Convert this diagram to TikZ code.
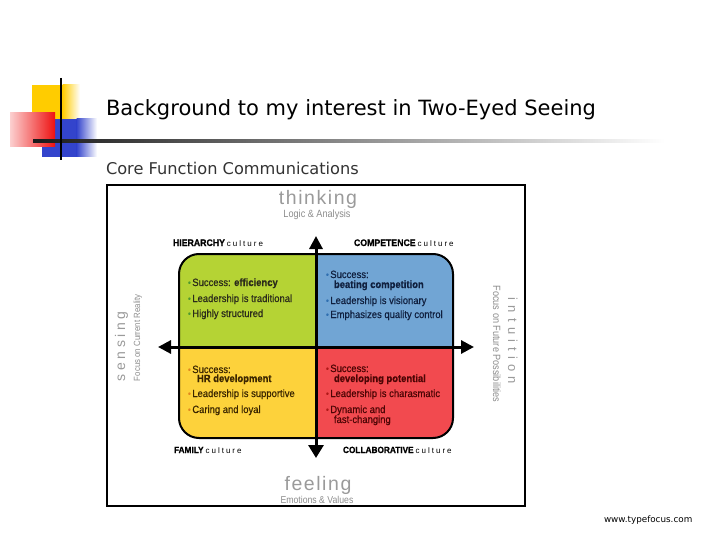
\documentclass[tikz,border=0pt]{standalone}
\usepackage{fontspec}
\setmainfont{Liberation Sans}
\newfontfamily\dejavu{DejaVu Sans}
\newfontfamily\cnd[FakeStretch=0.9,FakeBold=0.6]{Liberation Sans}
\newfontfamily\cndb[FakeStretch=0.92,FakeBold=0.8]{Liberation Sans}
\newfontfamily\lbl[FakeStretch=0.87]{Liberation Sans}
\newfontfamily\spA[LetterSpace=8]{Liberation Sans}
\newfontfamily\spS[LetterSpace=25]{Liberation Sans}
\newfontfamily\spI[LetterSpace=40]{Liberation Sans}
\newfontfamily\spC[LetterSpace=25]{Liberation Sans}
\usetikzlibrary{arrows.meta}
\definecolor{qgreen}{HTML}{B5D334}
\definecolor{qblue}{HTML}{71A5D4}
\definecolor{qyellow}{HTML}{FDD23B}
\definecolor{qred}{HTML}{F24A4F}
\definecolor{grayT}{HTML}{9A9A9A}
\definecolor{grayL}{HTML}{8C8C8C}
\definecolor{coreC}{HTML}{333333}
\definecolor{logoY}{HTML}{FFCC00}
\definecolor{logoB}{HTML}{3344CC}
\definecolor{logoR}{HTML}{EE1111}
\definecolor{tG}{HTML}{2B2B1B}
\definecolor{bG}{HTML}{4F9A2F}
\definecolor{tB}{HTML}{10203F}
\definecolor{bB}{HTML}{2F6FB0}
\definecolor{tY}{HTML}{3B2600}
\definecolor{bY}{HTML}{E2881E}
\definecolor{tR}{HTML}{4D0505}
\definecolor{bR}{HTML}{B01818}
\newcommand\bul[1]{\textcolor{#1}{\fontsize{9}{9}\selectfont\raisebox{0.3pt}{•}}\hspace{1.5pt}}
\newcommand\cultlbl[2]{{\cndb\bfseries\fontsize{#2}{10}\selectfont #1}\hspace{2pt}{\spC\fontsize{8}{9}\selectfont culture}}
\begin{document}
\begin{tikzpicture}[x=1pt,y=-1pt,
  every node/.style={inner sep=0pt, outer sep=0pt},
  qt/.style={anchor=base west, font=\cnd\fontsize{10.5}{12}\selectfont},
  big/.style={anchor=base, font=\spA\fontsize{19.5}{20}\selectfont, text=grayT},
  sub/.style={anchor=base, font=\lbl\fontsize{10.5}{11}\selectfont, text=grayL},
  culture/.style={anchor=base west},
  axis/.style={line width=3pt}]
\useasboundingbox (0,0) rectangle (720,540);
% logo
\fill[logoY] (32,85) rectangle (63,120);
\shade[left color=logoY, right color=white] (62.5,85) rectangle (80,120);
\fill[logoB] (42,119) rectangle (77,157);
\shade[left color=logoB, right color=white] (76.5,119) rectangle (97,157);
\shade[left color=logoR!20!white, right color=logoR] (10,113) rectangle (55,147);
\shade[left color=black!90, right color=white] (33,140) rectangle (665,142.5);
\draw[line width=2.5pt] (61,78) -- (61,160);
% titles
\node[anchor=base west, font=\dejavu\fontsize{21}{25}\selectfont] (title) at (106,116) {Background to my interest in Two-Eyed Seeing};
\node[anchor=base west, font=\dejavu\fontsize{16.2}{19}\selectfont, text=coreC] (core) at (106,175) {Core Function Communications};
% frame
\draw[line width=2pt] (107,185) rectangle (525,506);
% quadrants
\begin{scope}\clip (179,254) rectangle (316,347);
\fill[qgreen, rounded corners=20pt] (179,254) rectangle (453,438);\end{scope}
\begin{scope}\clip (316,254) rectangle (453,347);
\fill[qblue, rounded corners=20pt] (179,254) rectangle (453,438);\end{scope}
\begin{scope}\clip (179,347) rectangle (316,438);
\fill[qyellow, rounded corners=20pt] (179,254) rectangle (453,438);\end{scope}
\begin{scope}\clip (316,347) rectangle (453,438);
\fill[qred, rounded corners=20pt] (179,254) rectangle (453,438);\end{scope}
\draw[line width=2pt, rounded corners=20pt] (179,254) rectangle (453,438);
% axes
\coordinate (vt) at (316,236);
\coordinate (vb) at (316,458);
\coordinate (hl) at (158,347);
\coordinate (hr) at (474,347);
\draw[axis, {Triangle[width=13pt,length=13pt]}-{Triangle[width=15pt,length=13pt]}] (vt) -- (vb);
\draw[axis, {Triangle[width=13pt,length=13pt]}-{Triangle[width=13pt,length=13pt]}] (hl) -- (hr);
% axis labels
\node[big] (think) at (318,205) {thinking};
\node[sub] (logic) at (317,217.5) {Logic \& Analysis};
\node[big] (feel) at (318,490) {feeling};
\node[sub, font=\lbl\fontsize{10}{11}\selectfont] (emo) at (317,503) {Emotions \& Values};
\node[rotate=90, anchor=base west, font=\spS\fontsize{14}{14}\selectfont, text=grayT] (sens) at (125,381) {sensing};
\node[rotate=90, anchor=base west, font=\lbl\fontsize{9}{9}\selectfont, text=grayL] (sensf) at (140,381) {Focus on Current Reality};
\node[rotate=-90, anchor=base, font=\spI\fontsize{13}{13}\selectfont, text=grayT] (intu) at (508,341) {intuition};
\node[rotate=-90, anchor=base, font=\lbl\fontsize{10.5}{10}\selectfont, text=grayL] (intuf) at (493,344) {Focus on Future Possibilities};
% culture labels
\node[culture] (hier) at (173,246) {\cultlbl{HIERARCHY}{9.5}};
\node[culture] (comp) at (354,246) {\cultlbl{COMPETENCE}{9.5}};
\node[culture] (fam) at (174,453) {\cultlbl{FAMILY}{9}};
\node[culture] (coll) at (343,453) {\cultlbl{COLLABORATIVE}{9}};
% green
\node[qt, text=tG] (g1) at (188,286) {\bul{bG}Success: {\bfseries efficiency}};
\node[qt, text=tG] (g2) at (188,302) {\bul{bG}Leadership is traditional};
\node[qt, text=tG] (g3) at (188,317) {\bul{bG}Highly structured};
% blue
\node[qt, text=tB] (b1) at (326,278) {\bul{bB}Success:};
\node[qt, text=tB] (b1b) at (334,288) {\bfseries beating competition};
\node[qt, text=tB] (b2) at (326,304) {\bul{bB}Leadership is visionary};
\node[qt, text=tB] (b3) at (326,318) {\bul{bB}Emphasizes quality control};
% yellow
\node[qt, text=tY] (y1) at (188,373) {\bul{bY}Success:};
\node[qt, text=tY] (y1b) at (197,382) {\bfseries HR development};
\node[qt, text=tY] (y2) at (188,397) {\bul{bY}Leadership is supportive};
\node[qt, text=tY] (y3) at (188,413) {\bul{bY}Caring and loyal};
% red
\node[qt, text=tR] (r1) at (326,372) {\bul{bR}Success:};
\node[qt, text=tR] (r1b) at (334,382) {\bfseries developing potential};
\node[qt, text=tR] (r2) at (326,397) {\bul{bR}Leadership is charasmatic};
\node[qt, text=tR] (r3) at (326,413) {\bul{bR}Dynamic and};
\node[qt, text=tR] (r3b) at (334,423) {fast-changing};
% footer
\node[anchor=base west, font=\dejavu\fontsize{8.8}{10}\selectfont] (www) at (604,522) {www.typefocus.com};
\end{tikzpicture}
\end{document}
